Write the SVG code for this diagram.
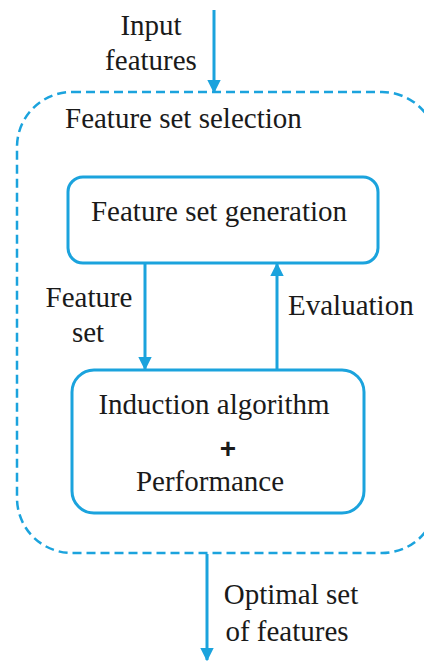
<svg xmlns="http://www.w3.org/2000/svg" width="424" height="661" viewBox="0 0 424 661">
<defs>
<style>
text{font-family:'Liberation Serif','Times New Roman',serif;font-size:29px;fill:#1a1a1a}
.m{text-anchor:middle}
.box{fill:#fff;stroke:#1ba3dd;stroke-width:3}
.dash{fill:none;stroke:#1ba3dd;stroke-width:2.5;stroke-dasharray:9 5}
.ln{stroke:#1ba3dd;stroke-width:3;fill:none}
</style>
<marker id="ah" viewBox="0 0 10 10" refX="9" refY="5" markerWidth="4.5" markerHeight="4.5" orient="auto-start-reverse" markerUnits="strokeWidth">
<path d="M0,0 L10,5 L0,10 z" fill="#1ba3dd"/>
</marker>
</defs>
<rect width="424" height="661" fill="#fff"/>
<g id="selection">
<rect class="dash" x="17" y="92" width="420" height="461" rx="55" ry="55"/>
<text x="65" y="128">Feature set selection</text>
</g>
<g id="connectors">
<line class="ln" x1="214" y1="10" x2="214" y2="92" marker-end="url(#ah)"/>
<line class="ln" x1="145" y1="264" x2="145" y2="369" marker-end="url(#ah)"/>
<line class="ln" x1="277" y1="370" x2="277" y2="264" marker-end="url(#ah)"/>
<line class="ln" x1="207" y1="554" x2="207" y2="660" marker-end="url(#ah)"/>
</g>
<g id="labels">
<text class="m" x="151" y="35">Input</text>
<text class="m" x="151" y="70">features</text>
<text class="m" x="89" y="307">Feature</text>
<text class="m" x="88" y="342">set</text>
<text x="288" y="315">Evaluation</text>
<text class="m" x="291" y="604">Optimal set</text>
<text class="m" x="287" y="641">of features</text>
</g>
<g id="generation">
<rect class="box" x="68" y="177" width="310" height="86" rx="15" ry="15"/>
<text class="m" x="219" y="221">Feature set generation</text>
</g>
<g id="induction">
<rect class="box" x="72" y="370" width="292" height="143" rx="22" ry="22"/>
<text class="m" x="214" y="414">Induction algorithm</text>
<text class="m" x="228" y="458" style="font-family:'Liberation Sans',Arial,sans-serif;font-weight:bold;font-size:28px">+</text>
<text class="m" x="210" y="491">Performance</text>
</g>
</svg>
